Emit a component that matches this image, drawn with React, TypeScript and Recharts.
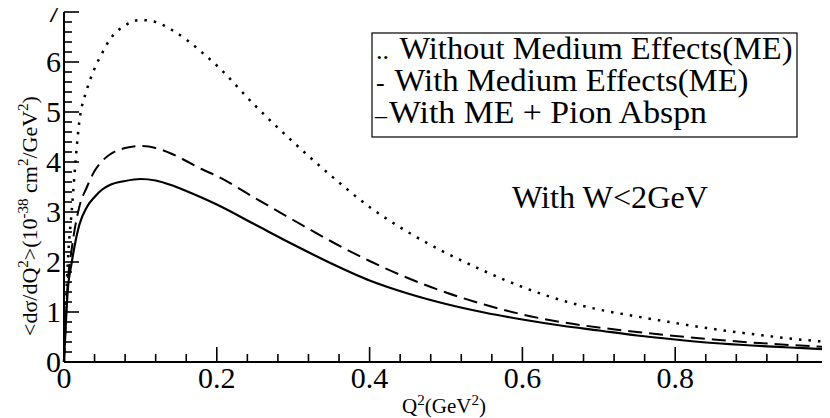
import React from "react";
import { LineChart, Line, XAxis, YAxis } from "recharts";

const q = [0, 0.005, 0.01, 0.02, 0.03, 0.04, 0.05, 0.06, 0.08, 0.1, 0.12, 0.14, 0.16, 0.18, 0.2, 0.25, 0.3, 0.35, 0.4, 0.45, 0.5, 0.55, 0.6, 0.65, 0.7, 0.75, 0.8, 0.85, 0.9, 0.95, 1.0];
const withoutME = [0, 2.0, 3.0, 4.8, 5.45, 5.87, 6.18, 6.45, 6.73, 6.84, 6.8, 6.65, 6.45, 6.2, 5.93, 5.13, 4.4, 3.72, 3.1, 2.6, 2.18, 1.82, 1.5, 1.24, 1.05, 0.91, 0.78, 0.66, 0.56, 0.47, 0.4];
const withME = [0, 1.6, 2.25, 3.1, 3.5, 3.82, 4.02, 4.15, 4.28, 4.32, 4.28, 4.17, 4.02, 3.86, 3.72, 3.28, 2.84, 2.41, 2.02, 1.68, 1.39, 1.15, 0.95, 0.8, 0.69, 0.6, 0.52, 0.45, 0.39, 0.34, 0.3];
const withAbs = [0, 1.45, 1.98, 2.74, 3.1, 3.3, 3.45, 3.54, 3.62, 3.66, 3.63, 3.54, 3.42, 3.29, 3.15, 2.75, 2.35, 1.97, 1.63, 1.37, 1.16, 0.99, 0.85, 0.73, 0.63, 0.53, 0.45, 0.38, 0.33, 0.29, 0.25];

const xMajor = [0, 0.2, 0.4, 0.6, 0.8, 1];
const xLabels = ["0", "0.2", "0.4", "0.6", "0.8", "1"];
const yMajor = [0, 1, 2, 3, 4, 5, 6, 7];
const yLabels = ["0", "1", "2", "3", "4", "5", "6", "7"];

const xTicks = Array.from({ length: 26 }, (_, i) => Math.round(i * 4) / 100);
const yTicks = Array.from({ length: 36 }, (_, i) => Math.round(i * 2) / 10);

const data = q.map((v, i) => ({ q: v, a: withoutME[i], b: withME[i], c: withAbs[i] }));

const FONT = "Liberation Serif";
const MAJ = 15;
const MIN = 8;

const isMajor = (v: number, arr: number[]) => arr.findIndex((m) => Math.abs(m - v) < 1e-6);

const BottomTick = (p: any) => {
  const idx = isMajor(p.payload.value, xMajor);
  const len = idx >= 0 ? MAJ : MIN;
  return (
    <g>
      <line x1={p.x} x2={p.x} y1={p.y} y2={p.y - len} stroke="#000" strokeWidth={1.6} />
      {idx >= 0 && (
        <text x={p.x} y={p.y + 26} textAnchor="middle" fontFamily={FONT} fontSize={30} fill="#000">
          {xLabels[idx]}
        </text>
      )}
    </g>
  );
};

const TopTick = (p: any) => {
  const idx = isMajor(p.payload.value, xMajor);
  const len = idx >= 0 ? MAJ : MIN;
  return <line x1={p.x} x2={p.x} y1={p.y} y2={p.y + len} stroke="#000" strokeWidth={1.6} />;
};

const LeftTick = (p: any) => {
  const idx = isMajor(p.payload.value, yMajor);
  const len = idx >= 0 ? MAJ : MIN;
  return (
    <g>
      <line x1={p.x} x2={p.x + len} y1={p.y} y2={p.y} stroke="#000" strokeWidth={1.6} />
      {idx >= 0 && (
        <text x={p.x - 3} y={p.y + 10} textAnchor="end" fontFamily={FONT} fontSize={30} fill="#000">
          {yLabels[idx]}
        </text>
      )}
    </g>
  );
};

const RightTick = (p: any) => {
  const idx = isMajor(p.payload.value, yMajor);
  const len = idx >= 0 ? MAJ : MIN;
  return <line x1={p.x} x2={p.x - len} y1={p.y} y2={p.y} stroke="#000" strokeWidth={1.6} />;
};

const axisLine = { stroke: "#000", strokeWidth: 2 };

export default function App() {
  return (
    <div style={{ position: "relative", width: 830, height: 418, margin: "-8px 0 0 -8px", background: "#fff", fontFamily: FONT }}>
      <LineChart width={830} height={418} data={data} margin={{ top: 12, right: 2, bottom: 0, left: 0 }}>
        <XAxis xAxisId="b" dataKey="q" type="number" domain={[0, 1]} ticks={xTicks} interval={0}
          orientation="bottom" height={56} axisLine={axisLine} tickLine={false} tickSize={0} tickMargin={0}
          tick={(p: any) => <BottomTick {...p} />} />
        <XAxis xAxisId="t" dataKey="q" type="number" domain={[0, 1]} ticks={xTicks} interval={0}
          orientation="top" height={0} axisLine={axisLine} tickLine={false} tickSize={0} tickMargin={0}
          tick={(p: any) => <TopTick {...p} />} />
        <YAxis yAxisId="l" type="number" domain={[0, 7]} ticks={yTicks} interval={0}
          orientation="left" width={64} axisLine={axisLine} tickLine={false} tickSize={0} tickMargin={0}
          tick={(p: any) => <LeftTick {...p} />} />
        <YAxis yAxisId="r" type="number" domain={[0, 7]} ticks={yTicks} interval={0}
          orientation="right" width={0} axisLine={axisLine} tickLine={false} tickSize={0} tickMargin={0}
          tick={(p: any) => <RightTick {...p} />} />
        <Line xAxisId="b" yAxisId="l" dataKey="a" type="monotone" stroke="#000" strokeWidth={2.5}
          strokeDasharray="2.5 7" dot={false} isAnimationActive={false} />
        <Line xAxisId="b" yAxisId="l" dataKey="b" type="monotone" stroke="#000" strokeWidth={2}
          strokeDasharray="14 7" dot={false} isAnimationActive={false} />
        <Line xAxisId="b" yAxisId="l" dataKey="c" type="monotone" stroke="#000" strokeWidth={2.2}
          dot={false} isAnimationActive={false} />
      </LineChart>
      <svg width={830} height={418} style={{ position: "absolute", left: 0, top: 0, pointerEvents: "none" }}
        fontFamily={FONT} fill="#000">
        <rect x={372} y={33} width={425} height={104} fill="none" stroke="#000" strokeWidth={1.2} />
        <text x={376} y={59} fontFamily={FONT} fontSize={26}>..</text>
        <text x={399.5} y={59} fontFamily={FONT} fontSize={32} textLength={393} lengthAdjust="spacingAndGlyphs">Without Medium Effects(ME)</text>
        <text x={376} y={91} fontFamily={FONT} fontSize={26}>-</text>
        <text x={394.5} y={91} fontFamily={FONT} fontSize={32} textLength={354} lengthAdjust="spacingAndGlyphs">With Medium Effects(ME)</text>
        <text x={375} y={123} fontFamily={FONT} fontSize={24}>–</text>
        <text x={389} y={123} fontFamily={FONT} fontSize={32} textLength={318} lengthAdjust="spacingAndGlyphs">With ME + Pion Abspn</text>
        <text x={512} y={208} fontFamily={FONT} fontSize={32} textLength={196} lengthAdjust="spacingAndGlyphs">With W&lt;2GeV</text>
        <text transform="translate(37,216) rotate(-90)" textAnchor="middle" fontFamily={FONT} fontSize={22}>
          &lt;dσ/dQ<tspan dy={-9} fontSize={15}>2</tspan>
          <tspan dy={9}>&gt;(10</tspan>
          <tspan dy={-9} fontSize={15}>-38</tspan>
          <tspan dy={9}> cm</tspan>
          <tspan dy={-9} fontSize={15}>2</tspan>
          <tspan dy={9}>/GeV</tspan>
          <tspan dy={-9} fontSize={15}>2</tspan>
          <tspan dy={9}>)</tspan>
        </text>
        <text x={444} y={413} textAnchor="middle" fontFamily={FONT} fontSize={21}>
          Q<tspan dy={-8} fontSize={15}>2</tspan>
          <tspan dy={8}>(GeV</tspan>
          <tspan dy={-8} fontSize={15}>2</tspan>
          <tspan dy={8}>)</tspan>
        </text>
      </svg>
    </div>
  );
}
